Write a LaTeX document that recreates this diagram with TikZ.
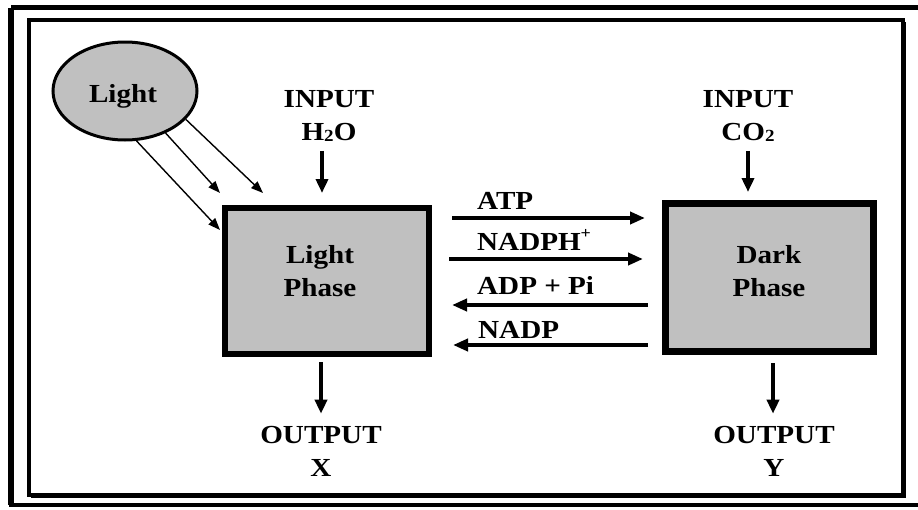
\documentclass[tikz,border=0pt]{standalone}
\usepackage{fontspec}
\setmainfont{Liberation Serif}[FakeStretch=1.12]
\usetikzlibrary{arrows.meta,shapes.geometric}
\definecolor{boxgray}{HTML}{C0C0C0}
\newcommand{\subtwo}{\raisebox{-1.5pt}{\fontsize{17}{17}\selectfont 2}}
\begin{document}
\begin{tikzpicture}[x=1pt,y=-1pt,
  lbl/.style={font=\fontsize{26}{33}\selectfont\bfseries, align=center, inner sep=0pt},
  phasebox/.style={draw, line width=6pt, fill=boxgray, inner sep=0pt},
  bigarrow/.style={line width=3.5pt, -{Triangle[length=14pt,width=12pt]}},
  midarrow/.style={line width=4pt, -{Triangle[length=15pt,width=12pt]}},
  rayarrow/.style={line width=1.4pt, -{Triangle[length=12pt,width=9pt]}}]
\useasboundingbox (0,0) rectangle (918,509);
% frames
\begin{scope}
  \clip (0,0) rectangle (918,509);
  \draw[line width=5pt] (11,7.5) -- (940,7.5);
  \draw[line width=6pt] (11,7.5) -- (11,505);
  \draw[line width=3.5pt] (9,505) -- (940,505);
\end{scope}
\draw[line width=4pt] (29,20) rectangle (903,495);
\draw[line width=2pt] (905,22) -- (905,497) -- (31,497);
% light source
\node[ellipse, draw, line width=3pt, fill=boxgray, minimum width=144pt, minimum height=98pt, inner sep=0pt] (light) at (125,91) {};
\node[lbl] (lighttxt) at (123,96) {Light};
% phase boxes
\node[phasebox, minimum width=204pt, minimum height=146pt] (lp) at (327,281) {};
\node[lbl] (lptxt) at (320,271) {Light\\Phase};
\node[phasebox, line width=7pt, minimum width=208pt, minimum height=148pt] (dp) at (769.5,277.5) {};
\node[lbl] (dptxt) at (769,271) {Dark\\Phase};
% inputs
\node[lbl] (inh) at (329,116) {INPUT\\H\subtwo O};
\node[lbl] (inc) at (748,116) {INPUT\\CO\subtwo};
% outputs
\node[lbl] (outx) at (321,451) {OUTPUT\\X};
\node[lbl] (outy) at (774,451) {OUTPUT\\Y};
% exchange labels
\node[lbl, anchor=base west] (atp) at (477,209) {ATP};
\node[lbl, anchor=base west] (nadph) at (477,250) {NADPH\raisebox{12pt}{\fontsize{16}{16}\selectfont +}};
\node[lbl, anchor=base west] (adp) at (477,294) {ADP + Pi};
\node[lbl, anchor=base west] (nadp) at (478,338) {NADP};
% coordinates for arrow ends
\coordinate (atpS) at (452,218);
\coordinate (atpE) at (645,218);
\coordinate (nadphS) at (449,259);
\coordinate (nadphE) at (643,259);
\coordinate (adpS) at (648,305);
\coordinate (adpE) at (452,305);
\coordinate (nadpS) at (648,345);
\coordinate (nadpE) at (453,345);
\coordinate (r1) at (220,230);
\coordinate (r2) at (220,193);
\coordinate (r3) at (263,193);
% arrows
\draw[midarrow] (atpS) -- (atpE);
\draw[midarrow] (nadphS) -- (nadphE);
\draw[midarrow] (adpS) -- (adpE);
\draw[midarrow] (nadpS) -- (nadpE);
\draw[bigarrow, shorten <=9pt, shorten >=12pt] (inh.south -| 322,0) -- (lp.north -| 322,0);
\draw[bigarrow, shorten <=9pt, shorten >=8pt] (inc.south) -- (inc.south |- dp.north);
\draw[bigarrow, shorten <=5pt, shorten >=12pt] (lp.south -| 321,0) -- (outx.north -| 321,0);
\draw[bigarrow, shorten <=8pt, shorten >=12pt] (dp.south -| 773,0) -- (outy.north -| 773,0);
\draw[rayarrow] (light.-77) -- (r1);
\draw[rayarrow] (light.-46) -- (r2);
\draw[rayarrow] (light.-25) -- (r3);
\end{tikzpicture}
\end{document}
